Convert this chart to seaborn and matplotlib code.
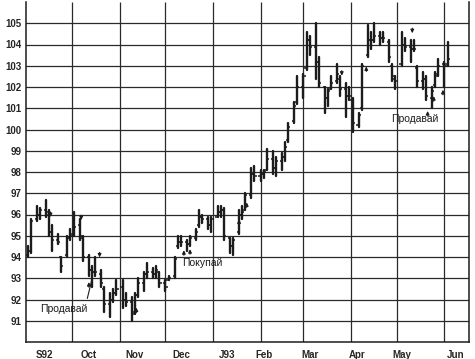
import numpy as np
import pandas as pd
import matplotlib
matplotlib.use("Agg")
import matplotlib.pyplot as plt
import matplotlib.dates as mdates
import seaborn as sns

# ---------------- data ----------------
high = [94.5, 95.8, 96.4, 96.3, 96.7, 96.2, 95.5, 95.1, 94.0, 95.0,
        95.3, 96.1, 95.8, 95.0, 94.1, 93.6, 94.0, 93.4, 92.6, 92.3,
        92.5, 92.9, 92.9, 92.3, 92.1, 92.3, 93.0, 93.3, 93.7, 93.5,
        93.6, 93.3, 92.9, 93.1, 94.0, 95.0, 95.0, 94.8, 95.0, 95.3,
        96.2, 96.0, 95.9, 95.9, 96.4, 96.4, 96.3, 94.9, 94.9, 96.2,
        96.4, 97.0, 98.2, 98.3, 98.1, 98.1, 99.1, 99.0, 98.7, 98.9,
        99.4, 100.3, 101.3, 102.5, 102.6, 104.6, 104.4, 105.0, 103.4, 102.0,
        101.9, 102.5, 103.1, 102.5, 102.2, 102.0, 101.5, 100.8, 103.1, 104.9,
        104.6, 105.0, 104.6, 104.6, 104.2, 103.1, 102.5, 104.6, 104.3, 104.2,
        104.2, 103.0, 102.7, 102.5, 102.0, 102.7, 103.3, 103.2, 104.1]
low = [94.0, 94.2, 95.7, 95.8, 95.9, 95.0, 94.3, 94.6, 93.3, 94.0,
       94.8, 95.0, 94.8, 93.8, 93.1, 92.6, 93.1, 92.6, 91.4, 91.2,
       91.9, 92.2, 91.6, 91.7, 91.0, 91.3, 92.1, 92.4, 93.0, 93.0,
       93.0, 92.6, 92.4, 92.9, 93.0, 94.4, 94.5, 94.3, 94.5, 94.8,
       95.4, 95.6, 95.3, 95.2, 95.9, 95.9, 94.8, 94.2, 94.1, 95.1,
       95.8, 96.2, 96.8, 97.6, 97.6, 97.7, 98.1, 97.9, 97.8, 98.1,
       98.5, 99.4, 100.3, 101.2, 101.5, 102.8, 103.5, 102.4, 102.0, 100.8,
       101.1, 101.9, 102.2, 101.6, 100.6, 101.4, 99.9, 100.1, 100.9, 103.4,
       103.8, 104.1, 104.0, 104.1, 103.2, 102.3, 101.9, 103.0, 103.7, 103.2,
       103.7, 102.0, 101.9, 101.4, 101.0, 102.0, 102.5, 102.0, 103.0]
opens = [94.1, 94.3, 95.8, 96.0, 96.2, 96.0, 95.2, 94.8, 94.0, 94.1,
         94.9, 95.1, 95.5, 94.9, 94.0, 93.4, 93.3, 93.2, 92.5, 91.8,
         92.0, 92.3, 92.6, 92.0, 91.9, 91.4, 92.2, 92.8, 93.2, 93.3,
         93.2, 93.3, 92.8, 92.9, 93.1, 94.5, 94.7, 94.7, 94.6, 94.9,
         95.5, 95.9, 95.8, 95.5, 95.9, 96.1, 96.2, 94.9, 94.5, 95.2,
         96.0, 96.2, 96.9, 97.9, 97.8, 97.9, 98.1, 98.6, 98.2, 98.5,
         98.7, 99.5, 100.4, 101.3, 102.0, 102.9, 104.2, 103.9, 103.2, 102.0,
         101.5, 101.9, 102.3, 102.4, 101.9, 101.6, 101.4, 100.2, 101.0, 103.5,
         104.2, 104.2, 104.4, 104.3, 104.1, 103.0, 102.4, 103.1, 104.0, 103.9,
         103.8, 102.9, 102.3, 102.4, 101.5, 102.1, 102.6, 103.1, 103.1]
closes = [94.3, 95.7, 96.0, 96.2, 96.1, 95.2, 94.8, 94.7, 93.6, 94.9,
          95.0, 95.4, 95.0, 94.0, 93.4, 93.3, 93.3, 92.8, 91.8, 92.0,
          92.3, 92.5, 92.0, 91.9, 91.3, 92.2, 92.8, 93.2, 93.3, 93.2,
          93.4, 92.8, 92.6, 93.0, 93.9, 94.7, 94.7, 94.6, 94.9, 95.2,
          95.9, 95.8, 95.5, 95.8, 96.1, 96.2, 95.0, 94.5, 94.8, 96.0,
          96.1, 96.9, 97.9, 97.8, 97.9, 98.0, 98.6, 98.2, 98.5, 98.7,
          99.2, 100.1, 101.1, 102.0, 102.5, 104.2, 103.9, 103.2, 102.2, 101.5,
          101.8, 102.2, 102.6, 101.9, 101.6, 101.6, 100.3, 100.7, 103.0, 104.2,
          104.2, 104.4, 104.3, 104.3, 103.4, 102.5, 102.3, 104.0, 103.9, 103.8,
          103.8, 102.3, 102.4, 101.6, 101.8, 102.5, 103.0, 103.0, 103.3]

month_starts = ["1992-10-01", "1992-11-01", "1992-12-01", "1993-01-01", "1993-02-01",
                "1993-03-01", "1993-04-01", "1993-05-01", "1993-06-01"]
month_labels = ["S92", "Oct", "Nov", "Dec", "J93", "Feb", "Mar", "Apr", "May", "Jun"]
label_dates = ["1992-09-13", "1992-10-12", "1992-11-11", "1992-12-11", "1993-01-10",
               "1993-02-03", "1993-03-05", "1993-04-05", "1993-05-04", "1993-06-08"]
y_ticks = list(range(91, 106))

up_arrow_dates = ["1992-10-12", "1992-11-12", "1992-12-13", "1992-12-17", "1993-01-18",
                  "1993-01-23", "1993-04-11", "1993-05-21", "1993-05-25", "1993-05-31"]
up_arrow_prices = [92.95, 91.75, 94.45, 94.5, 95.9, 96.7, 103.1, 101.0, 101.7, 102.0]
down_arrow_dates = ["1992-09-17", "1992-10-07", "1992-10-19", "1993-03-26", "1993-05-11"]
down_arrow_prices = [95.75, 95.6, 93.85, 102.4, 104.4]

notes = ["Продавай", "Покупай", "Продавай"]
note_dates = ["1992-09-10", "1992-12-12", "1993-04-27"]
note_prices = [91.57, 93.7, 100.5]
leader_dates = ["1992-10-11", "1992-10-14"]
leader_prices = [92.05, 92.95]

# ---------------- figure ----------------
sns.set_style("white")
plt.rcParams["font.family"] = ["Liberation Sans", "DejaVu Sans"]

dates = pd.bdate_range("1992-09-02", periods=2 * len(high))[::2]
n = len(high)
df = pd.DataFrame({
    "date": np.repeat(dates, 2),
    "price": np.ravel(np.column_stack([low, high])),
    "bar": np.repeat(np.arange(n), 2),
})

fig = plt.figure(figsize=(4.75, 3.59), dpi=100)
ax = fig.add_axes([26 / 475, 1 - 342 / 359, (469 - 26) / 475, 340 / 359])

ink = "#1c1c1c"
sns.lineplot(data=df, x="date", y="price", units="bar", estimator=None,
             color=ink, lw=1.7, ax=ax, legend=False, sort=False, zorder=3)

xd = mdates.date2num(dates)
ax.hlines(opens, xd - 1.4, xd, color=ink, lw=1.1, zorder=3)
ax.hlines(closes, xd, xd + 1.4, color=ink, lw=1.1, zorder=3)

# month grid
ms = mdates.date2num(pd.to_datetime(month_starts))
ax.vlines(ms, 90, 106, color="#2a2a2a", lw=0.9, zorder=1)

ax.set_ylim(90, 106)
ax.set_xlim(mdates.date2num(pd.Timestamp("1992-09-01")),
            mdates.date2num(pd.Timestamp("1993-06-17")))
ax.set_yticks(y_ticks)
ax.set_yticklabels([str(v) for v in y_ticks], fontsize=7, fontweight="bold")
ax.grid(axis="y", color="#2a2a2a", lw=0.9, zorder=1)
ax.grid(axis="x", visible=False)

ax.set_xticks(mdates.date2num(pd.to_datetime(label_dates)))
ax.set_xticklabels(month_labels, fontsize=7, fontweight="bold")
mondays = pd.date_range("1992-09-07", "1993-06-14", freq="W-MON")
minor = np.concatenate([mdates.date2num(mondays), ms])
ax.set_xticks(minor, minor=True)
ax.tick_params(axis="x", which="major", length=0, pad=6)
ax.tick_params(axis="x", which="minor", length=4, width=0.9, direction="inout", color=ink)
ax.tick_params(axis="y", length=0, pad=3)
ax.set_xlabel("")
ax.set_ylabel("")

for side in ["left", "bottom", "right"]:
    ax.spines[side].set_visible(True)
    ax.spines[side].set_color(ink)
    ax.spines[side].set_linewidth(1.1)
ax.spines["top"].set_visible(False)

# signal arrows
for d, p in zip(up_arrow_dates, up_arrow_prices):
    x = mdates.date2num(pd.Timestamp(d))
    ax.annotate("", xy=(x, p), xytext=(x, p - 0.5),
                arrowprops=dict(arrowstyle="-|>", color=ink, lw=0.8, mutation_scale=5),
                zorder=4)
for d, p in zip(down_arrow_dates, down_arrow_prices):
    x = mdates.date2num(pd.Timestamp(d))
    ax.annotate("", xy=(x, p), xytext=(x, p + 0.5),
                arrowprops=dict(arrowstyle="-|>", color=ink, lw=0.8, mutation_scale=5),
                zorder=4)

# notes
for t, d, p in zip(notes, note_dates, note_prices):
    ax.text(mdates.date2num(pd.Timestamp(d)), p, t, fontsize=7.5,
            ha="left", va="center", color=ink, zorder=5)
ax.plot(mdates.date2num(pd.to_datetime(leader_dates)), leader_prices,
        color=ink, lw=0.8, zorder=4)

fig.savefig("out.png", dpi=100)
